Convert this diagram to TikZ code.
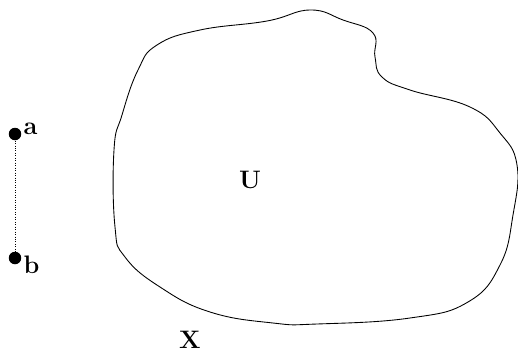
\documentclass[tikz,border=0pt]{standalone}
\usepackage{amsmath,amssymb}
\usetikzlibrary{positioning}

\begin{document}
\begin{tikzpicture}[
  x=0.02cm, y=-0.02cm,
  pt/.style={circle, fill=black, minimum size=2.5mm, inner sep=0pt},
  lbl/.style={font=\Large\bfseries, inner sep=1pt},
  region/.style={draw, line width=0.5pt}
]
\useasboundingbox (0,0) rectangle (518,353);
% the set U
\draw[region] plot[smooth cycle, tension=0.75] coordinates {
  (157,45) (200,30) (267,21) (310,10) (343,20) (373,33) (375,57) (382,77)
  (410,90) (470,107) (500,133) (517,165) (513,215) (500,265) (468,302)
  (410,318) (317,324) (273,323) (210,312) (160,287) (125,257) (115,227)
  (114,150) (122,115) (138,70)};
\node[lbl] (U) at (250,180) {U};
\node[lbl] (X) at (190,340) {X};
% the two points
\node[pt] (a) at (15,134) {};
\node[pt] (b) at (15,258) {};
\node[lbl, above right=-4pt and 1pt of a] (alab) {a};
\node[lbl, below right=-5pt and 1pt of b] (blab) {b};
\draw[densely dotted, thin] (a) -- (b);
\end{tikzpicture}
\end{document}
